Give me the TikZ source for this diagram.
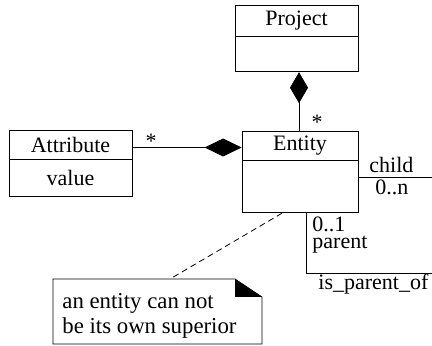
\documentclass[tikz,border=0pt]{standalone}
\usepackage{fontspec}
\setmainfont{Liberation Serif}
\usetikzlibrary{positioning,arrows.meta,calc}

\begin{document}
\begin{tikzpicture}[x=0.5pt, y=-0.5pt,
    font=\fontsize{11}{12.5}\selectfont,
    classhead/.style={draw, inner sep=0pt, minimum height=14.5pt},
    classbody/.style={draw, inner sep=0pt, below=0pt of #1},
    comp/.style={-{Diamond[length=#1, width=9pt, fill=black]}},
    lbl/.style={inner sep=0pt, anchor=base west}]
    \useasboundingbox (0, 0) rectangle (432, 346);
    % classes
    \node[classhead, minimum width=61.5pt, minimum height=15.5pt] (proj) at (296.5, 20.5) {Project};
    \node[classbody=proj, minimum width=61.5pt, minimum height=17.5pt] (projb) {};
    \node[classhead, minimum width=58pt] (ent) at (300, 145.5) {Entity};
    \node[classbody=ent, minimum width=58pt, minimum height=26pt] (entb) {};
    \node[classhead, minimum width=61.5pt] (attr) at (70.5, 144.5) {Attribute};
    \node[classbody=attr, minimum width=61.5pt, minimum height=18.5pt] (attrb) {value};
    % composition
    \draw[comp=15.5pt] ([xshift=-0.5pt]ent.north) -- ([xshift=-0.5pt]ent.north |- projb.south);
    \node (projstar) at (317, 122) {*};
    \draw[comp=18.5pt] ([yshift=-1.5pt]attr.east) -- ([yshift=-1.5pt]attr.east -| ent.west);
    \node (attrstar) at (151, 141) {*};
    % self association
    \coordinate (childend) at (432, 177);
    \coordinate (pcorner) at (306, 273);
    \coordinate (pend) at (432, 273);
    \draw (childend -| entb.east) -- (childend);
    \draw (pcorner |- entb.south) -- (pcorner) -- (pend);
    \node[lbl] (child) at (369, 173) {child};
    \node[lbl] (childmult) at (375, 195) {0..n};
    \node[lbl, align=left, font=\fontsize{11}{8.5}\selectfont] (parent) at (312, 249) {0..1\\parent};
    \node[lbl] (assoc) at (318, 290) {is\_parent\_of};
    % note
    \draw (53, 279) -- (235, 279) -- (262, 297) -- (262, 344) -- (53, 344) -- cycle;
    \fill (235, 279) -- (235, 297) -- (262, 297) -- cycle;
    \node[lbl, font=\fontsize{11.4}{13}\selectfont] (note) at (62, 308) {an entity can not};
    \node[lbl, font=\fontsize{11.4}{13}\selectfont] (note2) at (62, 333) {be its own superior};
    \coordinate (notetop) at (170, 279);
    \draw[dash pattern=on 3pt off 2pt] ([xshift=-9pt]entb.south) -- (notetop);
\end{tikzpicture}
\end{document}
